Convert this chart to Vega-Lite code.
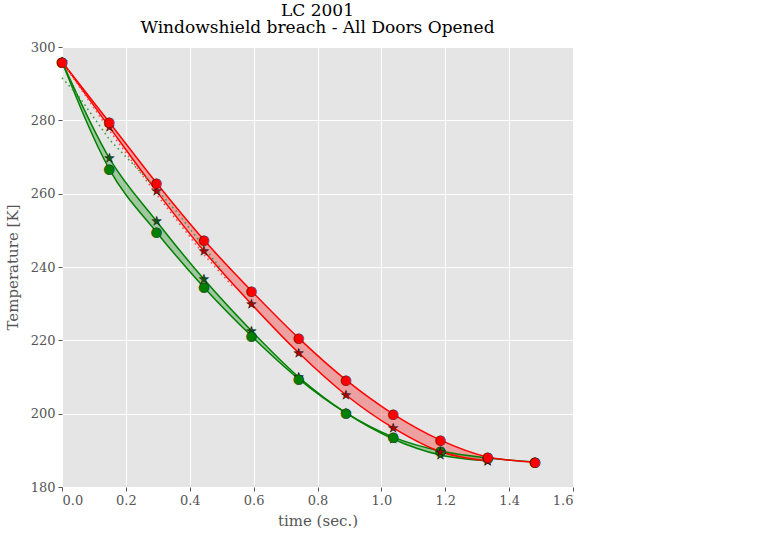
{
  "$schema": "https://vega.github.io/schema/vega-lite/v6.json",
  "width": 511,
  "height": 440,
  "autosize": {"type": "none"},
  "padding": {"left": 62, "top": 47, "right": 187, "bottom": 51},
  "background": "white",
  "title": {
    "text": "LC 2001",
    "subtitle": "Windowshield breach - All Doors Opened",
    "font": "DejaVu Serif",
    "subtitleFont": "DejaVu Serif",
    "fontSize": 17,
    "subtitleFontSize": 17,
    "fontWeight": "normal",
    "color": "#000000",
    "subtitleColor": "#000000",
    "subtitlePadding": 0,
    "anchor": "middle",
    "offset": 4
  },
  "datasets": {
    "temps": [
      {"t": 0, "g0": 296, "g1": 296, "r0": 296, "r1": 296},
      {"t": 0.148, "g0": 269.7, "g1": 266.7, "r0": 278.2, "r1": 279.5},
      {"t": 0.296, "g0": 252.5, "g1": 249.5, "r0": 260.7, "r1": 262.9},
      {"t": 0.444, "g0": 236.7, "g1": 234.5, "r0": 244.4, "r1": 247.4},
      {"t": 0.593, "g0": 222.6, "g1": 221.2, "r0": 229.9, "r1": 233.5},
      {"t": 0.741, "g0": 210.0, "g1": 209.5, "r0": 216.6, "r1": 220.6},
      {"t": 0.889, "g0": 200.2, "g1": 200.2, "r0": 205.1, "r1": 209.2},
      {"t": 1.037, "g0": 193.1, "g1": 193.6, "r0": 196.1, "r1": 199.9},
      {"t": 1.185, "g0": 188.7, "g1": 189.8, "r0": 189.6, "r1": 192.8},
      {"t": 1.333, "g0": 187.1, "g1": 187.9, "r0": 187.1, "r1": 188.2},
      {"t": 1.481, "g0": null, "g1": 186.8, "r0": null, "r1": 186.8}
    ],
    "cfd": [
      {"series": "gc", "t": 0, "T": 291.6},
      {"series": "gc", "t": 0.05, "T": 286.8},
      {"series": "gc", "t": 0.15, "T": 274.6},
      {"series": "gc", "t": 0.265, "T": 264.2},
      {"series": "gc", "t": 0.36, "T": 255.0},
      {"series": "gc", "t": 0.5, "T": 239.2},
      {"series": "rc", "t": 0, "T": 296},
      {"series": "rc", "t": 0.148, "T": 277.3},
      {"series": "rc", "t": 0.296, "T": 259.8},
      {"series": "rc", "t": 0.444, "T": 243.4},
      {"series": "rc", "t": 0.54, "T": 234.2}
    ]
  },
  "layer": [
    {
      "data": {"name": "temps"},
      "mark": {"type": "area", "interpolate": "monotone", "color": "#008000", "opacity": 0.3},
      "encoding": {
        "x": {
          "field": "t", "type": "quantitative",
          "scale": {"domain": [0, 1.6], "nice": false, "zero": false},
          "axis": {
            "title": "time (sec.)",
            "values": [0, 0.2, 0.4, 0.6, 0.8, 1.0, 1.2, 1.4, 1.6], "format": ".1f"
          }
        },
        "y": {
          "field": "g0", "type": "quantitative",
          "scale": {"domain": [180, 300], "nice": false, "zero": false},
          "axis": {
            "title": "Temperature [K]",
            "values": [180, 200, 220, 240, 260, 280, 300], "format": "d"
          }
        },
        "y2": {"field": "g1"}
      }
    },
    {
      "data": {"name": "temps"},
      "mark": {"type": "area", "interpolate": "monotone", "color": "#ff0000", "opacity": 0.3},
      "encoding": {
        "x": {"field": "t", "type": "quantitative"},
        "y": {"field": "r0", "type": "quantitative"},
        "y2": {"field": "r1"}
      }
    },
    {
      "data": {"name": "temps"},
      "mark": {"type": "line", "interpolate": "monotone", "strokeWidth": 1.5, "color": "#008000"},
      "encoding": {"x": {"field": "t", "type": "quantitative"}, "y": {"field": "g0", "type": "quantitative"}}
    },
    {
      "data": {"name": "temps"},
      "mark": {"type": "line", "interpolate": "monotone", "strokeWidth": 1.5, "color": "#008000"},
      "encoding": {"x": {"field": "t", "type": "quantitative"}, "y": {"field": "g1", "type": "quantitative"}}
    },
    {
      "data": {"name": "temps"},
      "mark": {"type": "line", "interpolate": "monotone", "strokeWidth": 1.5, "color": "#ff0000"},
      "encoding": {"x": {"field": "t", "type": "quantitative"}, "y": {"field": "r0", "type": "quantitative"}}
    },
    {
      "data": {"name": "temps"},
      "mark": {"type": "line", "interpolate": "monotone", "strokeWidth": 1.5, "color": "#ff0000"},
      "encoding": {"x": {"field": "t", "type": "quantitative"}, "y": {"field": "r1", "type": "quantitative"}}
    },
    {
      "data": {"name": "cfd"},
      "transform": [{"filter": {"field": "series", "equal": "gc"}}],
      "mark": {"type": "line", "strokeWidth": 1.6, "strokeDash": [1.6, 3.4], "color": "#3f9f3f"},
      "encoding": {"x": {"field": "t", "type": "quantitative"}, "y": {"field": "T", "type": "quantitative"}}
    },
    {
      "data": {"name": "cfd"},
      "transform": [{"filter": {"field": "series", "equal": "rc"}}],
      "mark": {"type": "line", "strokeWidth": 1.6, "strokeDash": [1.6, 3.4], "color": "#ff5050"},
      "encoding": {"x": {"field": "t", "type": "quantitative"}, "y": {"field": "T", "type": "quantitative"}}
    },
    {
      "data": {"name": "temps"},
      "transform": [{"filter": "isValid(datum.g0)"}],
      "mark": {"type": "text", "text": "★", "font": "DejaVu Sans", "fontSize": 12, "align": "center", "baseline": "middle", "fill": "#0b5a0b", "stroke": "#1a1a1a", "strokeWidth": 0.5},
      "encoding": {"x": {"field": "t", "type": "quantitative"}, "y": {"field": "g0", "type": "quantitative"}}
    },
    {
      "data": {"name": "temps"},
      "mark": {"type": "text", "text": "●", "font": "DejaVu Sans", "fontSize": 13, "align": "center", "baseline": "middle", "fill": "#008000", "stroke": "#1a1a1a", "strokeWidth": 0.5},
      "encoding": {"x": {"field": "t", "type": "quantitative"}, "y": {"field": "g1", "type": "quantitative"}}
    },
    {
      "data": {"name": "temps"},
      "transform": [{"filter": "isValid(datum.r0)"}],
      "mark": {"type": "text", "text": "★", "font": "DejaVu Sans", "fontSize": 12, "align": "center", "baseline": "middle", "fill": "#b00000", "stroke": "#1a1a1a", "strokeWidth": 0.5},
      "encoding": {"x": {"field": "t", "type": "quantitative"}, "y": {"field": "r0", "type": "quantitative"}}
    },
    {
      "data": {"name": "temps"},
      "mark": {"type": "text", "text": "●", "font": "DejaVu Sans", "fontSize": 13, "align": "center", "baseline": "middle", "fill": "#ff0000", "stroke": "#1a1a1a", "strokeWidth": 0.5},
      "encoding": {"x": {"field": "t", "type": "quantitative"}, "y": {"field": "r1", "type": "quantitative"}}
    }
  ],
  "config": {
    "font": "DejaVu Serif",
    "view": {"fill": "#e5e5e5", "stroke": null},
    "axis": {
      "labelFont": "DejaVu Serif",
      "labelFontSize": 13,
      "labelColor": "#555555",
      "titleFont": "DejaVu Serif",
      "titleFontSize": 15,
      "titleFontWeight": "normal",
      "titleColor": "#555555",
      "domain": false,
      "grid": true,
      "gridColor": "#ffffff",
      "gridWidth": 1,
      "gridOpacity": 1,
      "ticks": true,
      "tickColor": "#555555",
      "tickSize": 4,
      "tickWidth": 1,
      "labelPadding": 3
    },
    "axisBottom": {"titlePadding": 6},
    "axisLeft": {"titlePadding": 10}
  }
}
